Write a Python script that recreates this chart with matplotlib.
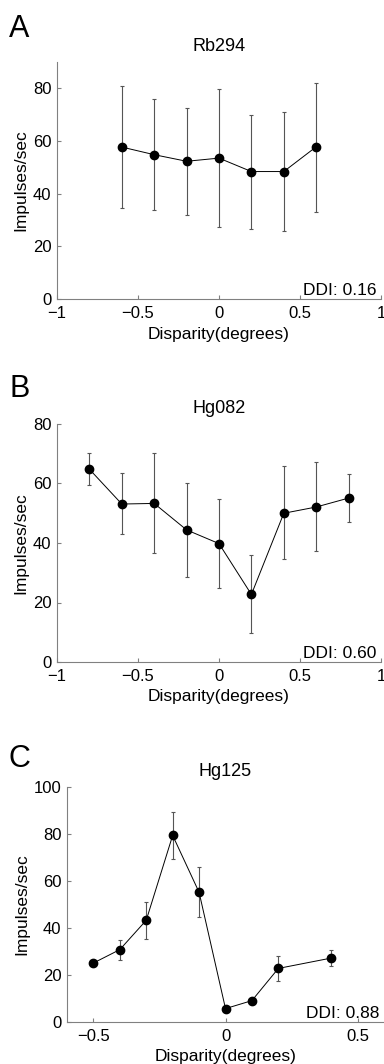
import matplotlib
matplotlib.use("Agg")
import matplotlib.pyplot as plt

plt.rcParams['font.family'] = ['Liberation Sans', 'DejaVu Sans']

# panel A - Rb294
xa = [-0.6, -0.4, -0.2, 0.0, 0.2, 0.4, 0.6]
ya = [57.7, 54.8, 52.3, 53.5, 48.4, 48.4, 57.8]
ya_top = [80.9, 75.8, 72.5, 79.6, 69.9, 71.2, 82.2]
ya_bot = [34.6, 33.8, 31.9, 27.3, 26.6, 25.7, 33.2]

# panel B - Hg082
xb = [-0.8, -0.6, -0.4, -0.2, 0.0, 0.2, 0.4, 0.6, 0.8]
yb = [64.8, 53.1, 53.3, 44.4, 39.8, 22.7, 50.0, 52.1, 55.1]
yb_top = [70.4, 63.5, 70.4, 60.0, 54.7, 35.9, 65.8, 67.2, 63.1]
yb_bot = [59.4, 43.0, 36.5, 28.6, 25.0, 9.7, 34.6, 37.3, 46.9]

# panel C - Hg125 (no visible bars on some points)
xc = [-0.5, -0.4, -0.3, -0.2, -0.1, 0.0, 0.1, 0.2, 0.4]
yc = [25.1, 30.8, 43.3, 79.4, 55.2, 5.7, 9.1, 22.8, 27.2]
yc_top = [25.1, 35.0, 51.2, 89.4, 66.0, 5.7, 9.1, 28.2, 30.8]
yc_bot = [25.1, 26.5, 35.5, 69.5, 44.5, 5.7, 9.1, 17.6, 24.0]

# letra, titulo, ddi, datos, rect del eje (px), y de la letra (px)
paneles = [
    ('A', 'Rb294', 'DDI: 0.16', xa, ya, ya_top, ya_bot,
     (57, 62, 381, 299), 37, (-1, 1), (0, 90),
     [-1, -0.5, 0, 0.5, 1], [0, 20, 40, 60, 80]),
    ('B', 'Hg082', 'DDI: 0.60', xb, yb, yb_top, yb_bot,
     (57, 424, 381, 662), 397, (-1, 1), (0, 80),
     [-1, -0.5, 0, 0.5, 1], [0, 20, 40, 60, 80]),
    ('C', 'Hg125', 'DDI: 0.88', xc, yc, yc_top, yc_bot,
     (67, 787, 384, 1022), 767, (-0.6, 0.6), (0, 100),
     [-0.5, 0, 0.5], [0, 20, 40, 60, 80, 100]),
]

W, H = 384, 1064
fig = plt.figure(figsize=(W / 100, H / 100), dpi=100)
gris = '#808080'

for letra, titulo, ddi, x, y, top, bot, r, yletra, xl, yl, xt, yt in paneles:
    ax = fig.add_axes([r[0] / W, 1 - r[3] / H, (r[2] - r[0]) / W, (r[3] - r[1]) / H])
    err = [[yy - b for yy, b in zip(y, bot)], [t - yy for yy, t in zip(y, top)]]
    ax.errorbar(x, y, yerr=err, fmt='none', ecolor='#555555', elinewidth=0.8,
                capsize=1.5, capthick=0.8)
    ax.plot(x, y, color='black', lw=0.7, marker='o', markersize=6,
            markerfacecolor='black', markeredgecolor='black')
    ax.set_xlim(xl)
    ax.set_ylim(yl)
    ax.set_xticks(xt)
    ax.set_xticklabels([('%g' % v).replace('-', '\u2212') for v in xt])
    ax.set_yticks(yt)
    for s in ['top', 'right']:
        ax.spines[s].set_visible(False)
    for s in ['left', 'bottom']:
        ax.spines[s].set_color(gris)
        ax.spines[s].set_linewidth(0.8)
    ax.tick_params(direction='in', length=3, width=0.8, color=gris,
                   labelsize=12, pad=4)
    ax.tick_params(axis='x', pad=5)
    ax.set_title(titulo, fontsize=13, pad=8)
    ax.set_xlabel('Disparity(degrees)', fontsize=12.5, labelpad=4)
    ax.set_ylabel('Impulses/sec', fontsize=12.5, labelpad=3)
    ax.text(0.985, 0.015, ddi, transform=ax.transAxes, ha='right',
            va='baseline', fontsize=12.5)
    fig.text(9 / W, 1 - yletra / H, letra, fontsize=22, ha='left', va='baseline')

fig.savefig('out.png', dpi=100)
